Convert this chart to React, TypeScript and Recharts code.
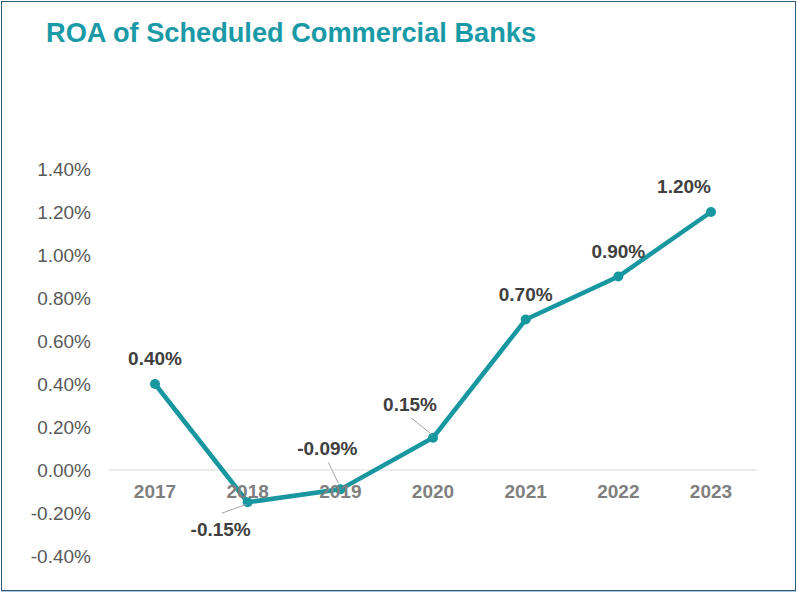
import { LabelList, Line, LineChart, ReferenceDot, ReferenceLine, XAxis, YAxis } from "recharts";

const YEARS = ["2017", "2018", "2019", "2020", "2021", "2022", "2023"];
const ROA = [0.4, -0.15, -0.09, 0.15, 0.7, 0.9, 1.2];
const Y_TICKS = [-0.4, -0.2, 0, 0.2, 0.4, 0.6, 0.8, 1.0, 1.2, 1.4];

const TEAL = "#1897a0";
const FONT = "'Liberation Sans', Arial, sans-serif";

// label placement relative to the point (baseline offset) and optional leader line
const LABEL_POS = [
  { dx: 0, dy: -19 },
  { dx: -27, dy: 34, lead: [-26, 11, -1, 2] },
  { dx: -13, dy: -34, lead: [-12, -27, -2, -6] },
  { dx: -23, dy: -27, lead: [-22, -20, -1, -3] },
  { dx: 0, dy: -19 },
  { dx: 0, dy: -19 },
  { dx: -27, dy: -19 },
];

const data = YEARS.map((year, i) => ({ year, roa: ROA[i] }));

const fmt = (v: number) => `${v.toFixed(2)}%`;

function PointLabel(props: any) {
  const { x, y, value, index } = props;
  const pos = LABEL_POS[index];
  return (
    <g>
      {pos.lead && (
        <line
          x1={x + pos.lead[0]}
          y1={y + pos.lead[1]}
          x2={x + pos.lead[2]}
          y2={y + pos.lead[3]}
          stroke="#a6a6a6"
          strokeWidth={1}
        />
      )}
      <text
        x={x + pos.dx}
        y={y + pos.dy}
        textAnchor="middle"
        fill="#404040"
        fontSize={19}
        fontWeight="bold"
        fontFamily={FONT}
      >
        {fmt(value)}
      </text>
    </g>
  );
}

export default function App() {
  return (
    <div
      style={{
        position: "absolute",
        left: 0,
        top: 0,
        width: 798,
        height: 593,
        background: "#fff",
        fontFamily: FONT,
      }}
    >
      <div
        style={{
          position: "absolute",
          left: 1,
          top: 1,
          width: 793,
          height: 588,
          border: "1px solid #2e5b7a",
          boxShadow: "0 1px 0 #a9c6dc",
        }}
      />
      <div
        style={{
          position: "absolute",
          left: 46,
          top: 19,
          fontSize: 27.2,
          lineHeight: "27px",
          fontWeight: "bold",
          color: "#1a9aa6",
          whiteSpace: "nowrap",
        }}
      >
        ROA of Scheduled Commercial Banks
      </div>
      <div style={{ position: "absolute", left: 0, top: 0 }}>
        <LineChart
          width={798}
          height={593}
          data={data}
          margin={{ top: 169, right: 41, bottom: 37, left: 0 }}
        >
          <XAxis dataKey="year" hide padding={{ left: 46, right: 46 }} />
          <YAxis
            width={109}
            domain={[-0.4, 1.4]}
            ticks={Y_TICKS}
            interval={0}
            axisLine={false}
            tickLine={false}
            tickSize={0}
            tickMargin={18}
            tickFormatter={fmt}
            tick={{ fill: "#595959", fontSize: 19, fontFamily: FONT }}
          />
          <ReferenceLine y={0} stroke="#d9d9d9" strokeWidth={1} />
          {YEARS.map((year) => (
            <ReferenceDot
              key={year}
              x={year}
              y={0}
              r={0}
              fill="none"
              stroke="none"
              label={{
                value: year,
                position: "bottom",
                offset: 15,
                fill: "#7f7f7f",
                fontSize: 19,
                fontWeight: "bold",
                fontFamily: FONT,
              }}
            />
          ))}
          <Line
            dataKey="roa"
            type="linear"
            stroke={TEAL}
            strokeWidth={4.5}
            dot={{ r: 5, fill: TEAL, stroke: TEAL, strokeWidth: 0 }}
            isAnimationActive={false}
          >
            <LabelList dataKey="roa" content={<PointLabel />} />
          </Line>
        </LineChart>
      </div>
    </div>
  );
}
